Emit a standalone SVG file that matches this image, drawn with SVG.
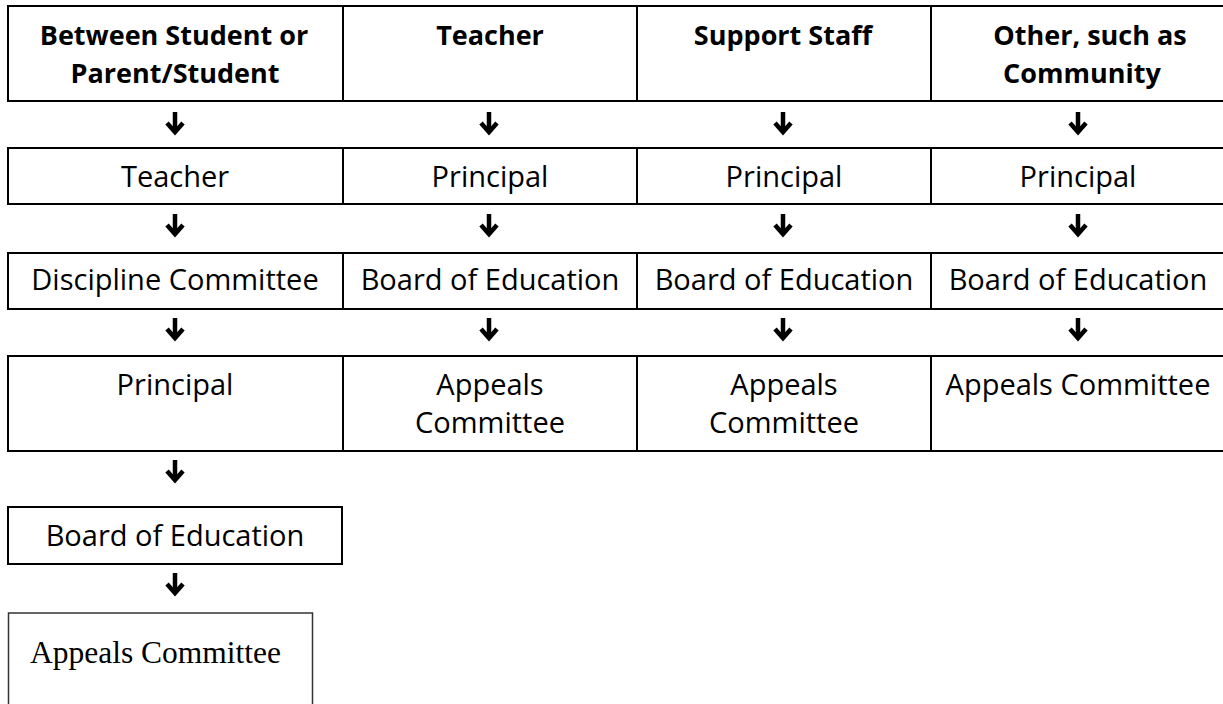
<svg xmlns="http://www.w3.org/2000/svg" width="1223" height="704" viewBox="0 0 1223 704">
  <style>
    .cell { fill: #ffffff; stroke: #000000; stroke-width: 2; }
    .box2 { fill: #ffffff; stroke: #333333; stroke-width: 1.5; }
    .t { font-family: "Open Sans", "Noto Sans", sans-serif; font-size: 29px; fill: #000000; text-anchor: middle; }
    .h { font-family: "Open Sans", "Noto Sans", sans-serif; font-size: 27px; font-weight: bold; fill: #000000; text-anchor: middle; }
    .serif { font-family: "Liberation Serif", "Times New Roman", serif; font-size: 31.5px; fill: #000000; }
    .arrow { fill: none; stroke: #000000; stroke-width: 4.5; stroke-linecap: butt; stroke-linejoin: miter; }
  </style>
  <defs>
    <!-- down arrow: stem with a chevron head, centred on its origin -->
    <g id="down">
      <path class="arrow" d="M0,-11 V9"/>
      <path class="arrow" d="M-8,0 L0,9 L8,0"/>
    </g>
  </defs>
  <rect width="1223" height="704" fill="#ffffff"/>

  <!-- header row -->
  <g id="h-student">
    <rect class="cell" x="8" y="6" width="335" height="95"/>
    <text class="h" x="174" y="45">Between Student or</text>
    <text class="h" x="175" y="83">Parent/Student</text>
  </g>
  <g id="h-teacher">
    <rect class="cell" x="343" y="6" width="294" height="95"/>
    <text class="h" x="490" y="45">Teacher</text>
  </g>
  <g id="h-support">
    <rect class="cell" x="637" y="6" width="294" height="95"/>
    <text class="h" x="783" y="45">Support Staff</text>
  </g>
  <g id="h-other">
    <rect class="cell" x="931" y="6" width="300" height="95"/>
    <text class="h" x="1090" y="45">Other, such as</text>
    <text class="h" x="1082" y="83">Community</text>
  </g>

  <!-- second row -->
  <g id="s-teacher">
    <rect class="cell" x="8" y="148" width="335" height="56"/>
    <text class="t" x="175" y="187">Teacher</text>
  </g>
  <g id="t-principal">
    <rect class="cell" x="343" y="148" width="294" height="56"/>
    <text class="t" x="490" y="187">Principal</text>
  </g>
  <g id="u-principal">
    <rect class="cell" x="637" y="148" width="294" height="56"/>
    <text class="t" x="784" y="187">Principal</text>
  </g>
  <g id="o-principal">
    <rect class="cell" x="931" y="148" width="300" height="56"/>
    <text class="t" x="1078" y="187">Principal</text>
  </g>

  <!-- third row -->
  <g id="s-discipline">
    <rect class="cell" x="8" y="253" width="335" height="56"/>
    <text class="t" x="175" y="290">Discipline Committee</text>
  </g>
  <g id="t-board">
    <rect class="cell" x="343" y="253" width="294" height="56"/>
    <text class="t" x="490" y="290">Board of Education</text>
  </g>
  <g id="u-board">
    <rect class="cell" x="637" y="253" width="294" height="56"/>
    <text class="t" x="784" y="290">Board of Education</text>
  </g>
  <g id="o-board">
    <rect class="cell" x="931" y="253" width="300" height="56"/>
    <text class="t" x="1078" y="290">Board of Education</text>
  </g>

  <!-- fourth row -->
  <g id="s-principal">
    <rect class="cell" x="8" y="356" width="335" height="95"/>
    <text class="t" x="175" y="395">Principal</text>
  </g>
  <g id="t-appeals">
    <rect class="cell" x="343" y="356" width="294" height="95"/>
    <text class="t" x="490" y="395">Appeals</text>
    <text class="t" x="490" y="433">Committee</text>
  </g>
  <g id="u-appeals">
    <rect class="cell" x="637" y="356" width="294" height="95"/>
    <text class="t" x="784" y="395">Appeals</text>
    <text class="t" x="784" y="433">Committee</text>
  </g>
  <g id="o-appeals">
    <rect class="cell" x="931" y="356" width="300" height="95"/>
    <text class="t" x="1078" y="395">Appeals Committee</text>
  </g>

  <!-- student path continues below the table -->
  <g id="s-board">
    <rect class="cell" x="8" y="507" width="334" height="57"/>
    <text class="t" x="175" y="546">Board of Education</text>
  </g>
  <g id="s-appeals">
    <rect class="box2" x="8.5" y="613" width="304" height="100"/>
    <text class="serif" x="30" y="663">Appeals Committee</text>
  </g>

  <!-- connectors -->
  <g id="connectors">
    <use href="#down" x="175" y="123"/>
    <use href="#down" x="489" y="123"/>
    <use href="#down" x="783" y="123"/>
    <use href="#down" x="1078" y="123"/>

    <use href="#down" x="175" y="225"/>
    <use href="#down" x="489" y="225"/>
    <use href="#down" x="783" y="225"/>
    <use href="#down" x="1078" y="225"/>

    <use href="#down" x="175" y="329"/>
    <use href="#down" x="489" y="329"/>
    <use href="#down" x="783" y="329"/>
    <use href="#down" x="1078" y="329"/>

    <use href="#down" x="175" y="471"/>
    <use href="#down" x="175" y="584"/>
  </g>
</svg>
